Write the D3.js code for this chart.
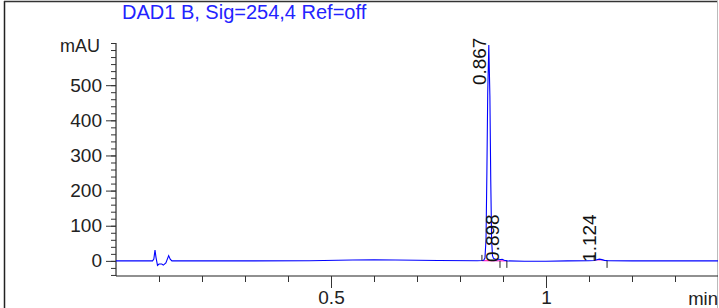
<!DOCTYPE html>
<html>
<head>
<meta charset="utf-8">
<script src="https://cdn.jsdelivr.net/npm/d3@7"></script>
<style>
  body { margin: 0; background: #fff; }
  svg { display: block; font-family: "Liberation Sans", Arial, sans-serif; }
</style>
</head>
<body>
<script>
// signal: DAD1 B, 254 nm
const times = [0, 0.085, 0.088, 0.0907, 0.093, 0.0965, 0.100, 0.1065, 0.110, 0.116, 0.1225, 0.126, 0.130,
  0.30, 0.45, 0.55, 0.60, 0.65, 0.75, 0.84, 0.852, 0.855, 0.858, 0.8605, 0.8625, 0.8645, 0.867, 0.8695,
  0.8715, 0.8735, 0.8755, 0.878, 0.882, 0.888, 0.895, 0.898, 0.903, 0.910, 0.95, 1.00, 1.05, 1.10, 1.112,
  1.118, 1.124, 1.130, 1.136, 1.145, 1.20, 1.40];
const mAU = [0, 0, 5, 31, 10, -13, -9, -9, -12, -6, 15, 5, 0,
  0, 0.5, 2.5, 3, 2.5, 1, 0.5, 1, 1.5, 8, 60, 250, 480, 614, 470,
  230, 60, 15, 7, 5, 4.5, 4, 4.5, 2, 0, -1, -1, 0, 0.5, 1,
  3, 5, 3.5, 1.5, 0.5, 0, 0];

// peak labels (retention times) and their heights
const peakTimes = [0.867, 0.898, 1.124];
const peakHeights = [614, 4.5, 5];

// integration events: baseline start/end
const eventTimes = [0.851, 0.893, 0.909, 1.112, 1.142];
const eventUp = [true, false, false, true, false];

const yTicks = [0, 100, 200, 300, 400, 500];
const xTickLabels = [0.5, 1];

const W = 719, H = 308;
const svg = d3.select("body").append("svg").attr("width", W).attr("height", H);

const x = d3.scaleLinear().domain([0, 1.4]).range([116, 718]);
const y = d3.scaleLinear().domain([-43, 620]).range([276, 43]);

// outer frame
svg.append("line").attr("x1", 4.5).attr("x2", 4.5).attr("y1", 1).attr("y2", H).attr("stroke", "#222").attr("stroke-width", 1.5);
svg.append("line").attr("x1", 4).attr("x2", 718).attr("y1", 1.5).attr("y2", 1.5).attr("stroke", "#333").attr("stroke-width", 1.5);
svg.append("line").attr("x1", 717.5).attr("x2", 717.5).attr("y1", 1).attr("y2", H).attr("stroke", "#bbb");

// title
svg.append("text").attr("x", 122).attr("y", 19).attr("fill", "#2323ff")
  .attr("font-size", 20).text("DAD1 B, Sig=254,4 Ref=off");

// y axis
const yAxis = svg.append("g").attr("transform", `translate(${x(0)},0)`);
yAxis.call(d3.axisLeft(y).tickValues(d3.range(-40, 621, 20)).tickSize(5).tickFormat(""))
  .call(g => g.select(".domain").attr("d", `M0,${y(620)}V${y(-43)}`));
yAxis.append("g").call(d3.axisLeft(y).tickValues(yTicks).tickSize(10).tickPadding(4))
  .call(g => g.select(".domain").remove())
  .call(g => g.selectAll("text").attr("font-size", 19).attr("fill", "#222").attr("font-family", "Liberation Sans, Arial"));
yAxis.selectAll("line").attr("stroke", "#333");
yAxis.append("text").attr("x", -16).attr("y", y(600) + 2).attr("text-anchor", "end")
  .attr("font-size", 18).attr("fill", "#222").text("mAU");

// x axis
const xAxis = svg.append("g").attr("transform", `translate(0,${y(-43)})`);
xAxis.call(d3.axisBottom(x).tickValues(d3.range(1, 14).map(d => d / 10)).tickSize(6).tickFormat(""))
  .call(g => g.select(".domain").attr("d", `M${x(0)},0H${x(1.4)}`).attr("stroke", "#222").attr("stroke-width", 1.2));
xAxis.append("g").call(d3.axisBottom(x).tickValues(xTickLabels).tickSize(12).tickPadding(3).tickFormat(d3.format("")))
  .call(g => g.select(".domain").remove())
  .call(g => g.selectAll("text").attr("font-size", 19).attr("fill", "#222").attr("font-family", "Liberation Sans, Arial"));
xAxis.selectAll("line").attr("stroke", "#333");
svg.append("text").attr("x", 718).attr("y", 305).attr("text-anchor", "end")
  .attr("font-size", 18.5).attr("fill", "#222").text("min");

const pts = times.map((t, i) => [t, mAU[i]]);

// integration baselines (magenta)
svg.append("line").attr("x1", x(eventTimes[0])).attr("x2", x(eventTimes[2]))
  .attr("y1", y(0.8)).attr("y2", y(0)).attr("stroke", "#ff33cc").attr("stroke-width", 1.2);
const base2 = pts.filter(p => p[0] >= eventTimes[3] && p[0] <= eventTimes[4]);
svg.append("path").datum(base2)
  .attr("d", d3.area().x(d => x(d[0])).y0(y(0.5)).y1(d => y(d[1])))
  .attr("fill", "#ff66dd").attr("opacity", 0.8);

// signal trace
svg.append("path").datum(pts)
  .attr("d", d3.line().x(d => x(d[0])).y(d => y(d[1])))
  .attr("fill", "none").attr("stroke", "#0000ff").attr("stroke-width", 1.1);

// event ticks
svg.selectAll(".ev").data(eventTimes).join("line")
  .attr("x1", d => x(d)).attr("x2", d => x(d))
  .attr("y1", y(0)).attr("y2", (d, i) => eventUp[i] ? y(0) - 6 : y(0) + 7)
  .attr("stroke", "#222").attr("stroke-width", 1);

// peak labels
svg.selectAll(".pk").data(peakTimes).join("text")
  .attr("transform", (d, i) => {
    const ly = Math.min(y(peakHeights[i]) + 40, y(0) + 1);
    return `translate(${x(d) - 3},${ly}) rotate(-90)`;
  })
  .attr("font-size", 19).attr("fill", "#111").text(d => d3.format(".3f")(d));
</script>
</body>
</html>
